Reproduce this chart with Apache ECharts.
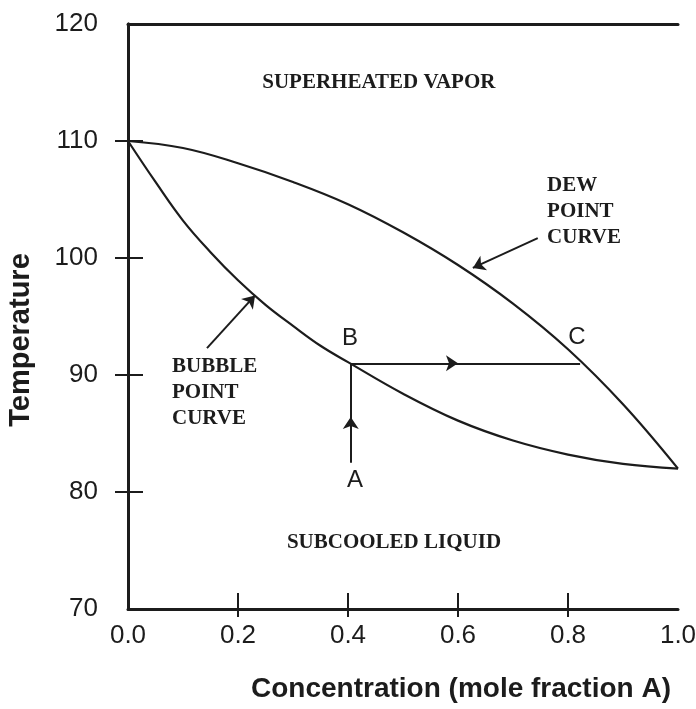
<!DOCTYPE html>
<html>
<head>
<meta charset="utf-8">
<script src="https://cdn.jsdelivr.net/npm/echarts@6/dist/echarts.min.js"></script>
<style>
  html, body { margin: 0; padding: 0; background: #fff; }
  #chart { width: 696px; height: 709px; }
</style>
</head>
<body>
<div id="chart"></div>
<script>
// Binary T-x diagram: dew point and bubble point curves
const dewPoint = [
  [0.0, 110], [0.1, 109.4], [0.2, 108.1], [0.3, 106.5], [0.4, 104.6],
  [0.5, 102.2], [0.6, 99.4], [0.7, 96.1], [0.8, 92.2], [0.9, 87.5], [1.0, 82]
];
const bubblePoint = [
  [0.0, 110], [0.05, 106.5], [0.1, 103.2], [0.15, 100.5], [0.2, 98.1],
  [0.25, 96.0], [0.3, 94.2], [0.35, 92.5], [0.4, 91.1], [0.5, 88.4],
  [0.6, 86.1], [0.7, 84.4], [0.8, 83.2], [0.9, 82.4], [1.0, 82]
];

// Heating path A -> B -> C
const pointA = [0.405, 82.5];
const pointB = [0.405, 91];
const pointC = [0.822, 91];
const arrowMidAB = [0.405, 86.4];
const arrowMidBC = [0.6, 91];

// Pointer arrows for curve captions
const dewPointer = [[0.745, 101.7], [0.627, 99.15]];
const bubblePointer = [[0.1436, 92.3], [0.231, 96.8]];

// Tick values
const xTicks = [0.2, 0.4, 0.6, 0.8];
const yTicks = [80, 90, 100, 110];
const xLabels = [0, 0.2, 0.4, 0.6, 0.8, 1.0];
const yLabels = [70, 80, 90, 100, 110, 120];

// Captions placed in data space
const centeredCaptions = [
  { value: [0.456, 114.96], text: 'SUPERHEATED VAPOR' },
  { value: [0.4836, 75.64], text: 'SUBCOOLED LIQUID' }
];
const leftCaptions = [
  { value: [0.762, 104.0], text: 'DEW\nPOINT\nCURVE' },
  { value: [0.08, 88.46], text: 'BUBBLE\nPOINT\nCURVE' }
];
const pointLabels = [
  { value: [0.4036, 93.1], text: 'B' },
  { value: [0.816, 93.2], text: 'C' },
  { value: [0.4127, 81.0], text: 'A' }
];

const ink = '#1c1c1c';
const serif = '"Liberation Serif", "Times New Roman", serif';
const sans = '"Liberation Sans", Arial, sans-serif';

const chart = echarts.init(document.getElementById('chart'), null, { renderer: 'canvas' });

const baseX = { type: 'value', min: 0, max: 1, gridIndex: 0 };
const baseY = { type: 'value', min: 70, max: 120, gridIndex: 0 };
const axisLine = { show: true, lineStyle: { color: ink, width: 3 } };
const solidItem = { opacity: 1, color: ink };

chart.setOption({
  backgroundColor: '#fff',
  animation: false,
  grid: { left: 128, top: 24, width: 550, height: 585, outerBoundsMode: 'none' },
  xAxis: [
    Object.assign({}, baseX, {
      position: 'bottom',
      axisLine: axisLine,
      axisTick: { show: true, inside: false, length: 8, customValues: xTicks, lineStyle: { color: ink, width: 2 } },
      axisLabel: {
        show: true, margin: 14, customValues: xLabels,
        formatter: v => v.toFixed(1),
        fontFamily: sans, fontSize: 26, color: ink
      },
      splitLine: { show: false }
    }),
    Object.assign({}, baseX, {
      position: 'bottom',
      axisLine: { show: false },
      axisTick: { show: true, inside: true, length: 16, customValues: xTicks, lineStyle: { color: ink, width: 2 } },
      axisLabel: { show: false },
      splitLine: { show: false }
    }),
    Object.assign({}, baseX, {
      position: 'top',
      axisLine: axisLine,
      axisTick: { show: false },
      axisLabel: { show: false },
      splitLine: { show: false }
    })
  ],
  yAxis: [
    Object.assign({}, baseY, {
      position: 'left',
      axisLine: axisLine,
      axisTick: { show: true, inside: false, length: 13, customValues: yTicks, lineStyle: { color: ink, width: 2 } },
      axisLabel: {
        show: true, margin: 30, customValues: yLabels,
        fontFamily: sans, fontSize: 26, color: ink
      },
      splitLine: { show: false }
    }),
    Object.assign({}, baseY, {
      position: 'left',
      axisLine: { show: false },
      axisTick: { show: true, inside: true, length: 15, customValues: yTicks, lineStyle: { color: ink, width: 2 } },
      axisLabel: { show: false },
      splitLine: { show: false }
    }),
    Object.assign({}, baseY, {
      position: 'right',
      axisLine: axisLine,
      axisTick: { show: false },
      axisLabel: { show: false },
      splitLine: { show: false }
    })
  ],
  graphic: [
    {
      type: 'text', x: 21, y: 340, rotation: Math.PI / 2,
      style: {
        text: 'Temperature', fill: ink,
        font: 'bold 29px ' + sans, align: 'center', verticalAlign: 'middle'
      }
    },
    {
      type: 'text', x: 461, y: 689,
      style: {
        text: 'Concentration (mole fraction A)', fill: ink,
        font: 'bold 28px ' + sans, align: 'center', verticalAlign: 'middle'
      }
    }
  ],
  series: [
    {
      name: 'Dew point', type: 'line', data: dewPoint,
      smooth: 0.4, showSymbol: false, symbol: 'none',
      lineStyle: { color: ink, width: 2.2 }
    },
    {
      name: 'Bubble point', type: 'line', data: bubblePoint,
      smooth: 0.4, showSymbol: false, symbol: 'none',
      lineStyle: { color: ink, width: 2.2 }
    },
    {
      // segments that end in an arrowhead
      type: 'lines', coordinateSystem: 'cartesian2d',
      symbol: ['none', 'arrow'], symbolSize: [0, 12],
      itemStyle: solidItem,
      lineStyle: { color: ink, width: 2, opacity: 1, curveness: 0 },
      data: [
        { coords: [pointA, arrowMidAB] },
        { coords: [pointB, arrowMidBC] },
        { coords: dewPointer },
        { coords: bubblePointer }
      ],
      z: 3
    },
    {
      // plain continuation segments
      type: 'lines', coordinateSystem: 'cartesian2d',
      symbol: ['none', 'none'],
      lineStyle: { color: ink, width: 2, opacity: 1, curveness: 0 },
      data: [
        { coords: [arrowMidAB, pointB] },
        { coords: [arrowMidBC, pointC] }
      ],
      z: 3
    },
    {
      type: 'scatter', symbolSize: 0, silent: true, itemStyle: solidItem,
      data: centeredCaptions.map(d => ({ value: d.value, name: d.text })),
      label: {
        show: true, position: 'inside', formatter: p => p.name,
        fontFamily: serif, fontWeight: 'bold', fontSize: 21, color: ink
      }
    },
    {
      type: 'scatter', symbolSize: 0, silent: true, itemStyle: solidItem,
      data: leftCaptions.map(d => ({ value: d.value, name: d.text })),
      label: {
        show: true, position: 'right', distance: 0, align: 'left',
        formatter: p => p.name, lineHeight: 26,
        fontFamily: serif, fontWeight: 'bold', fontSize: 21, color: ink
      }
    },
    {
      type: 'scatter', symbolSize: 0, silent: true, itemStyle: solidItem,
      data: pointLabels.map(d => ({ value: d.value, name: d.text })),
      label: {
        show: true, position: 'inside', formatter: p => p.name,
        fontFamily: sans, fontSize: 24, color: ink
      }
    }
  ]
});
</script>
</body>
</html>
